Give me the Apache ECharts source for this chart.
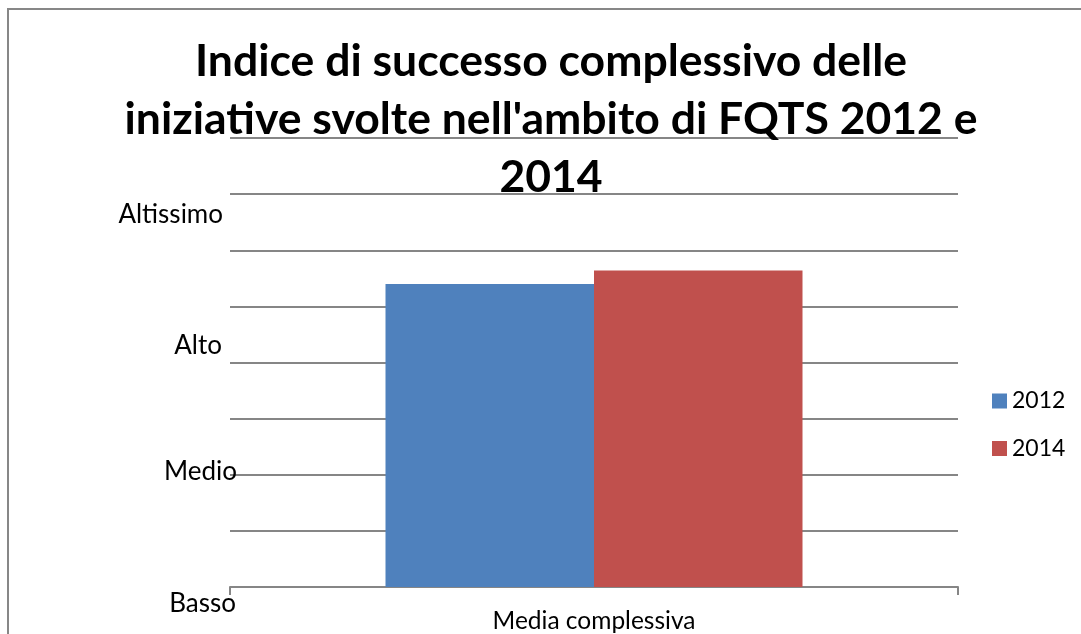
<!DOCTYPE html>
<html>
<head>
<meta charset="utf-8">
<script src="https://cdn.jsdelivr.net/npm/echarts@6/dist/echarts.min.js"></script>
<style>
html,body{margin:0;padding:0;background:#fff;}
#chart{width:1081px;height:634px;}
</style>
</head>
<body>
<div id="chart"></div>
<script>
const titleText = "Indice di successo complessivo delle\niniziative svolte nell'ambito di FQTS 2012 e\n2014";
const categories = ['Media complessiva'];
const seriesNames = ['2012', '2014'];
const values2012 = [2.70];
const values2014 = [2.82];
const levelLabels = ['Basso', 'Medio', 'Alto', 'Altissimo'];
const colors = ['#4f81bd', '#c0504d'];

const FONT = 'Lato, "Open Sans", sans-serif';
const chart = echarts.init(document.getElementById('chart'));

// Manually placed level labels (as in the original text boxes)
const levelPos = [
  {x: 236, y: 604},
  {x: 237, y: 472},
  {x: 222, y: 346},
  {x: 223, y: 215}
];
const graphics = [
  {type: 'rect', silent: true, z: -10,
   shape: {x: 8, y: 9, width: 1200, height: 800},
   style: {fill: '#ffffff', stroke: '#878787', lineWidth: 2}}
];
levelLabels.forEach((t, i) => {
  graphics.push({
    type: 'text', x: levelPos[i].x, y: levelPos[i].y, z: 10,
    style: {text: t, fontSize: 26, fontFamily: FONT, fill: '#000',
            align: 'right', verticalAlign: 'middle'}
  });
});

chart.setOption({
  animation: false,
  backgroundColor: '#ffffff',
  title: {
    text: titleText,
    left: 551,
    textAlign: 'center',
    top: 33,
    padding: 0,
    textStyle: {fontSize: 44.5, fontWeight: 'bold', fontFamily: FONT, color: '#000', lineHeight: 58}
  },
  legend: {
    orient: 'vertical',
    left: 992,
    top: 389,
    padding: 0,
    itemWidth: 15,
    itemHeight: 15,
    itemGap: 23.5,
    icon: 'rect',
    data: seriesNames,
    textStyle: {fontSize: 23, fontFamily: FONT, color: '#000', lineHeight: 24}
  },
  grid: {left: 230, right: 123, top: 138, bottom: 45, containLabel: false},
  xAxis: {
    type: 'category',
    data: categories,
    axisLine: {show: true, lineStyle: {color: '#868686', width: 2}},
    axisTick: {show: true, length: 8, lineStyle: {color: '#868686', width: 2}},
    axisLabel: {fontSize: 24.5, fontFamily: FONT, color: '#000', margin: 22}
  },
  yAxis: {
    type: 'value',
    min: 0, max: 4, interval: 0.5,
    axisLine: {show: false},
    axisTick: {show: false},
    axisLabel: {show: false},
    splitLine: {show: true, lineStyle: {color: '#868686', width: 2}}
  },
  series: [
    {name: seriesNames[0], type: 'bar', data: values2012, barWidth: 208.5, barGap: '0%',
     itemStyle: {color: colors[0]}},
    {name: seriesNames[1], type: 'bar', data: values2014, barWidth: 208.5, barGap: '0%',
     itemStyle: {color: colors[1]}}
  ],
  graphic: graphics
});
</script>
</body>
</html>
